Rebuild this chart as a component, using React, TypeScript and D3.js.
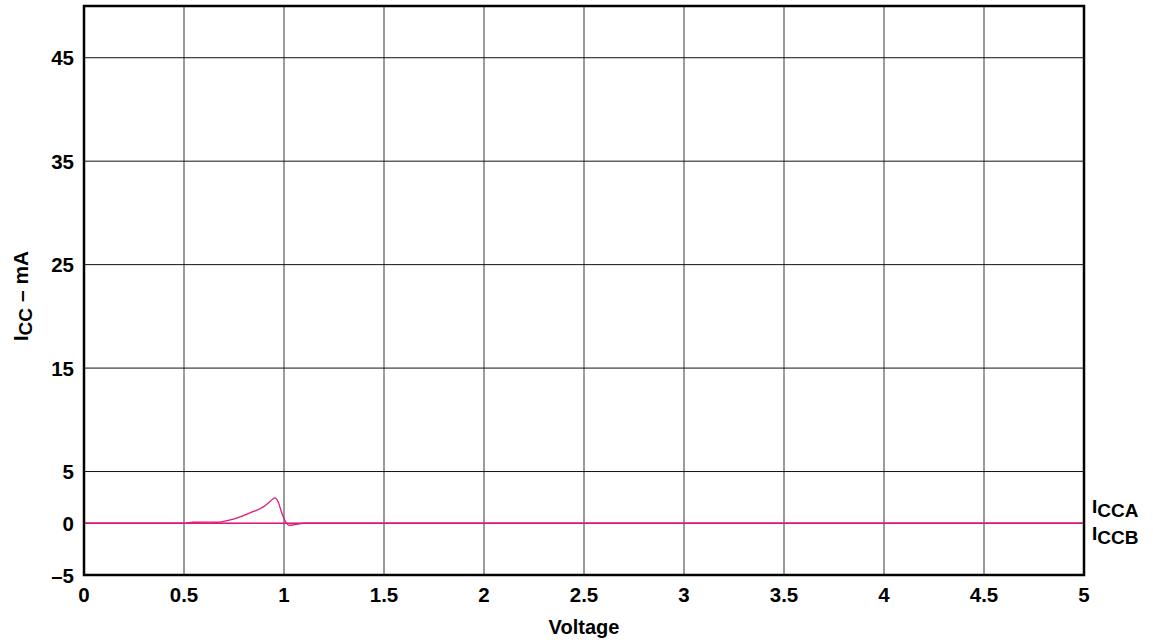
import React, {useEffect, useRef} from 'react'
import * as d3 from 'd3'

// volts / mA
const iccaV = [0, 0.5, 0.545, 0.6, 0.663, 0.747, 0.83, 0.905, 0.93, 0.955, 0.972, 0.988, 1.005, 1.027, 1.047, 1.077, 1.1, 5]
const iccaI = [0, 0, 0.1, 0.12, 0.1, 0.4, 1.0, 1.7, 2.1, 2.45, 2.0, 1.06, 0.25, -0.2, -0.15, -0.05, 0, 0]
const iccbV = [0, 5]
const iccbI = [0, 0]
const xTicks = [0, 0.5, 1, 1.5, 2, 2.5, 3, 3.5, 4, 4.5, 5]
const yTicks = [45, 35, 25, 15, 5, 0, -5]

const App = () => {
  const ref = useRef<SVGSVGElement>(null)

  useEffect(() => {
    const width = 1153
    const height = 642
    const margin = {top: 14, right: 69, bottom: 67, left: 84}
    const font = 'Liberation Sans, Arial, sans-serif'
    const fs = 20.5

    const x = d3.scaleLinear().domain([0, 5]).range([margin.left, width - margin.right])
    const y = d3.scaleLinear().domain([-5, 50]).range([height - margin.bottom, margin.top - 8])

    const svg = d3.select(ref.current)
      .attr('viewBox', [0, 0, width, height])
      .attr('font-family', font)
    svg.selectAll('*').remove()

    const [x0, x1] = x.range()
    const [yb, yt] = y.range()

    // vertical grid (gray)
    svg.append('g')
      .selectAll('line')
      .data(xTicks.slice(1, -1))
      .join('line')
      .attr('x1', d => x(d)).attr('x2', d => x(d))
      .attr('y1', yt).attr('y2', yb)
      .attr('stroke', '#7a7a7a')
      .attr('stroke-width', 1.5)

    // horizontal grid (black, zero line gray)
    svg.append('g')
      .selectAll('line')
      .data(yTicks.filter(d => d !== -5))
      .join('line')
      .attr('x1', x0).attr('x2', x1)
      .attr('y1', d => y(d)).attr('y2', d => y(d))
      .attr('stroke', d => d === 0 ? '#8a8a8a' : '#111')
      .attr('stroke-width', 1)

    const line = d3.line<number>()
      .x(d => x(d))
      .curve(d3.curveMonotoneX)

    svg.append('path')
      .attr('d', d3.line<number>().x(d => x(d)).y((d, i) => y(iccbI[i]))(iccbV))
      .attr('fill', 'none')
      .attr('stroke', '#e0197d')
      .attr('stroke-width', 1.3)

    svg.append('path')
      .attr('d', line.y((d, i) => y(iccaI[i]))(iccaV))
      .attr('fill', 'none')
      .attr('stroke', '#e0197d')
      .attr('stroke-width', 1.3)

    // frame
    svg.append('rect')
      .attr('x', x0).attr('y', yt)
      .attr('width', x1 - x0).attr('height', yb - yt)
      .attr('fill', 'none')
      .attr('stroke', '#000')
      .attr('stroke-width', 2.5)

    // tick labels
    svg.append('g')
      .selectAll('text')
      .data(xTicks)
      .join('text')
      .attr('x', d => x(d))
      .attr('y', yb + 27)
      .attr('text-anchor', 'middle')
      .attr('font-size', fs)
      .attr('font-weight', 'bold')
      .text(d => d3.format('')(d))

    svg.append('g')
      .selectAll('text')
      .data(yTicks)
      .join('text')
      .attr('x', x0 - 10)
      .attr('y', d => y(d) + 7.5)
      .attr('text-anchor', 'end')
      .attr('font-size', fs)
      .attr('font-weight', 'bold')
      .text(d => d < 0 ? `\u2013${-d}` : `${d}`)

    // axis titles
    svg.append('text')
      .attr('x', (x0 + x1) / 2)
      .attr('y', 634)
      .attr('text-anchor', 'middle')
      .attr('font-size', 20)
      .attr('font-weight', 'bold')
      .text('Voltage')

    const yl = svg.append('text')
      .attr('transform', `translate(28,296) rotate(-90)`)
      .attr('text-anchor', 'middle')
      .attr('font-size', 21)
      .attr('font-weight', 'bold')
    yl.append('tspan').text('I')
    yl.append('tspan').attr('font-size', 19).attr('dy', 4).text('CC')
    yl.append('tspan').attr('dy', -4).text(' \u2013 mA')

    // series labels
    const labels = [{name: 'CCA', dy: -10}, {name: 'CCB', dy: 17}]
    labels.forEach(l => {
      const t = svg.append('text')
        .attr('x', x1 + 8)
        .attr('y', y(0) + l.dy)
        .attr('font-size', 19)
        .attr('font-weight', 'bold')
      t.append('tspan').text('I')
      t.append('tspan').attr('font-size', 19).attr('dy', 4).text(l.name)
    })
  }, [])

  return <svg ref={ref} width={1153} height={642}
    style={{position: 'absolute', left: 0, top: 0, background: '#fff'}} />
}

export default App
